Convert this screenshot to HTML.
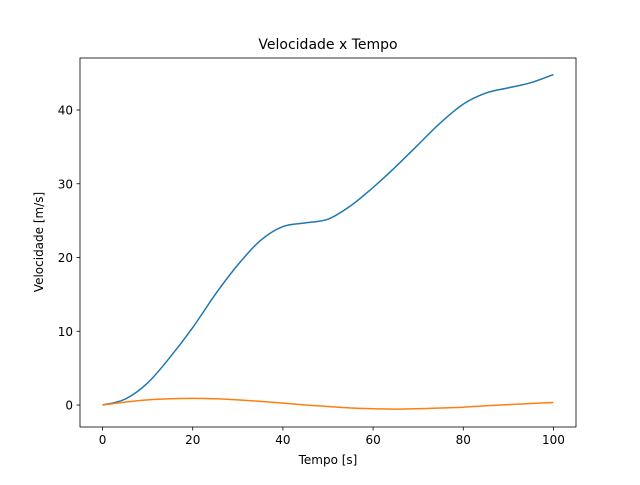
<!DOCTYPE html>
<html><head><meta charset="utf-8"><style>
body{margin:0;background:#fff}
svg{font-family:"DejaVu Sans","Liberation Sans",sans-serif}
</style></head><body>
<svg id="c" width="640" height="480">
<text x="328" y="49" font-size="14" text-anchor="middle">Velocidade x Tempo</text>
<text x="328" y="464" font-size="12" text-anchor="middle">Tempo [s]</text>
<text x="0" y="0" font-size="12" text-anchor="middle" transform="translate(43,242) rotate(-90)">Velocidade [m/s]</text>
</svg>
<script>
const times=[0,5,10,15,20,25,30,35,40,45,50,55,60,65,70,75,80,85,90,95,100];
const blueVals=[0,0.8,3,6.5,10.5,15,19,22.3,24.2,24.7,25.2,27,29.5,32.3,35.3,38.3,40.8,42.3,43,43.7,44.8];
const orangeVals=[0,0.4,0.7,0.85,0.9,0.85,0.7,0.5,0.25,0,-0.2,-0.4,-0.5,-0.55,-0.5,-0.4,-0.3,-0.1,0.05,0.2,0.35];
const xTicks=[0,20,40,60,80,100];
const yTicks=[0,10,20,30,40];
const NS="http://www.w3.org/2000/svg";
const svg=document.getElementById('c');
const L=80,R=576,T=58,B=427;
const xMin=-5,xMax=105,yMin=-2.98,yMax=47.05;
const X=v=>L+(v-xMin)/(xMax-xMin)*(R-L);
const Y=v=>B-(v-yMin)/(yMax-yMin)*(B-T);
function mk(tag,attrs){const e=document.createElementNS(NS,tag);for(const k in attrs)e.setAttribute(k,attrs[k]);svg.appendChild(e);return e;}
function line(vals,color,name){
  const p=times.map((t,i)=>[X(t),Y(vals[i])]);
  let d='M'+p[0][0]+','+p[0][1];
  for(let i=0;i<p.length-1;i++){
    const p0=p[Math.max(0,i-1)],p1=p[i],p2=p[i+1],p3=p[Math.min(p.length-1,i+2)];
    const c1=[p1[0]+(p2[0]-p0[0])/6,p1[1]+(p2[1]-p0[1])/6];
    const c2=[p2[0]-(p3[0]-p1[0])/6,p2[1]-(p3[1]-p1[1])/6];
    d+=` C${c1[0]},${c1[1]} ${c2[0]},${c2[1]} ${p2[0]},${p2[1]}`;
  }
  const e=mk('path',{d:d,fill:'none',stroke:color,'stroke-width':1.5});
  
  
}
line(blueVals,'#1f77b4','velocity-series-blue');
line(orangeVals,'#ff7f0e','velocity-series-orange');
const frame=mk('rect',{x:L,y:T,width:R-L,height:B-T,fill:'none',stroke:'#000','stroke-width':0.8});


xTicks.forEach(t=>{
  const tk=mk('line',{x1:X(t),x2:X(t),y1:B,y2:B+3.5,stroke:'#000','stroke-width':0.8});
  
  
  const tx=mk('text',{x:X(t),y:B+17,'font-size':12,'text-anchor':'middle'});
  tx.textContent=t;
  
  
});
yTicks.forEach(t=>{
  const tk=mk('line',{x1:L-3.5,x2:L,y1:Y(t),y2:Y(t),stroke:'#000','stroke-width':0.8});
  
  
  const tx=mk('text',{x:L-7,y:Y(t)+4.5,'font-size':12,'text-anchor':'end'});
  tx.textContent=t;
  
  
});
</script>
</body></html>
